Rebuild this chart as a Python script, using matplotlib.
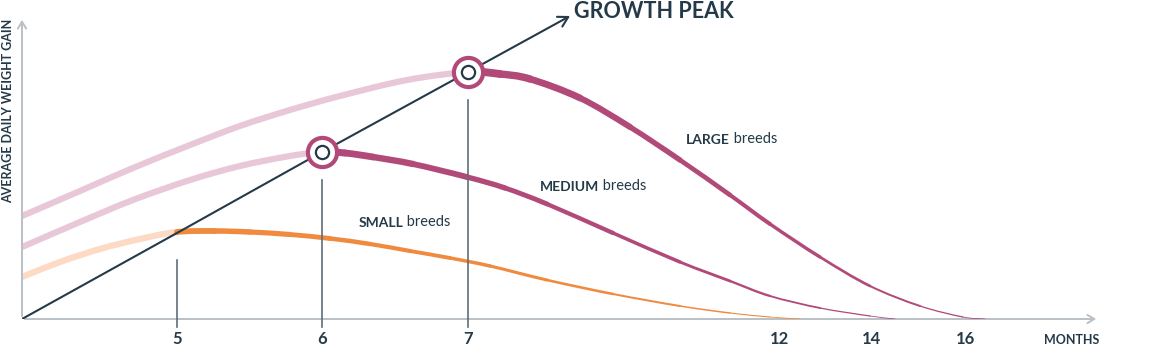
"""Growth-peak sketch: average daily weight gain by breed size vs. age in months."""
import numpy as np
import matplotlib.pyplot as plt
from matplotlib.path import Path
from matplotlib.patches import PathPatch
from matplotlib.collections import PathCollection

plt.rcParams['font.family'] = ['Lato', 'DejaVu Sans']

NAVY = "#243a49"
GREY = "#5f6e79"
AXIS = "#b9c0c6"
MAGENTA = "#b24a79"
PINK = "#e8c8d8"
ORANGE = "#f08a3e"
PEACH = "#fcdac4"

# the month axis of the original is uneven: months -> horizontal position
SCALE_MONTHS = [4, 5, 6, 7, 12, 14, 16, 19]
SCALE_POS = [0, 155, 300, 446, 757, 849, 943, 1084]

TICK_MONTHS = [5, 6, 7, 12, 14, 16]
TICK_LABELS = ["5", "6", "7", "12", "14", "16"]

LARGE_MONTHS = [4.0, 4.374, 4.716, 5.09, 5.434, 5.779, 6.123, 6.582, 7.0,
                7.514, 7.997, 8.801, 9.605, 10.408, 11.212, 11.855, 12.891, 13.978,
                15.043, 15.957, 16.426]
LARGE_GAIN = [103, 128, 151, 174, 193, 209, 223, 239, 247,
              245, 240, 221, 192, 159, 124, 95, 62, 33, 13, 2, 0]
LARGE_PEAK = 7

MEDIUM_MONTHS = [4.0, 4.374, 4.716, 5.09, 5.434, 5.779, 6.0,
                 6.158, 6.349, 6.623, 6.993, 7.595, 8.27, 9.331, 10.408, 11.212, 11.855,
                 12.891, 13.978, 14.511]
MEDIUM_GAIN = [72, 97, 119, 139, 153, 163, 167,
               166, 162, 155, 142, 131, 115, 86, 57, 38, 23, 11, 3, 0]
MEDIUM_PEAK = 6

SMALL_MONTHS = [4.0, 4.245, 4.503, 4.761, 5.0,
                5.262, 5.503, 5.779, 6.055, 6.329, 6.603, 6.877, 7.354, 8.27, 9.331,
                10.408, 11.212, 11.855, 12.457]
SMALL_GAIN = [42, 57, 70, 80, 87,
              88, 87, 84.5, 80.5, 75, 68, 61, 53, 39, 25, 13, 6, 2, 0]
SMALL_PEAK = 5

GROWTH_MONTHS = [4, 5, 6, 7]
GROWTH_GAIN = [0, 86, 167, 247]
GROWTH_TIP = (8.64, 303)


def to_pos(m):
    return np.interp(m, SCALE_MONTHS, SCALE_POS)


def to_month(p):
    return np.interp(p, SCALE_POS, SCALE_MONTHS)


def bezier_pieces(months, gain):
    """Cubic pieces through the read points (Catmull-Rom handles), one per gap."""
    p = np.column_stack([to_pos(months), gain]).astype(float)
    ext = np.vstack([2 * p[0] - p[1], p, 2 * p[-1] - p[-2]])
    pieces = []
    for i in range(len(p) - 1):
        p0, p1, p2, p3 = ext[i], ext[i + 1], ext[i + 2], ext[i + 3]
        c1 = p1 + (p2 - p0) / 6
        c2 = p2 - (p3 - p1) / 6
        v = np.array([p1, c1, c2, p2])
        v[:, 0] = to_month(v[:, 0])
        pieces.append(v)
    return pieces


def breed_curve(ax, months, gain, peak, light, dark, w_light, w_dark):
    months = np.asarray(months, float)
    gain = np.asarray(gain, float)
    codes = [Path.MOVETO, Path.CURVE4, Path.CURVE4, Path.CURVE4]
    pieces = bezier_pieces(months, gain)
    k = int(np.searchsorted(months, peak))  # index of the peak point

    verts = [pieces[0][0]]
    cds = [Path.MOVETO]
    for v in pieces[:k]:
        verts.extend(v[1:])
        cds.extend(codes[1:])
    ax.add_patch(PathPatch(Path(np.array(verts), cds), fill=False, edgecolor=light,
                           lw=w_light, capstyle="butt", zorder=2))

    p = to_pos(months[k:])
    mid = (p[:-1] + p[1:]) / 2
    widths = w_dark + (0.5 - w_dark) * (mid - p[0]) / (p[-1] - p[0])
    paths = [Path(v, codes) for v in pieces[k:]]
    pc = PathCollection(paths, facecolors="none", edgecolors=dark,
                        linewidths=widths, capstyle="round", zorder=3,
                        transform=ax.transData)
    ax.add_collection(pc)


fig = plt.figure(figsize=(11.72, 3.57), dpi=100)
ax = fig.add_axes([22 / 1172, 38 / 357, 1084 / 1172, 307 / 357])
ax.set_xscale("function", functions=(to_pos, to_month))
ax.set_xlim(4, 19)
ax.set_ylim(0, 307)
for s in ax.spines.values():
    s.set_visible(False)
ax.set_yticks([])
ax.set_xticks(TICK_MONTHS)
ax.set_xticklabels(TICK_LABELS, fontsize=12, fontweight="bold", color=NAVY)
ax.tick_params(axis="x", length=0, pad=9)
ax.xaxis.set_minor_locator(plt.NullLocator())

# axes with arrow heads
arrow_kw = dict(arrowstyle="->,head_length=0.5,head_width=0.3", color=AXIS, lw=1.4)
ax.annotate("", xy=(18.85, 0), xytext=(4, 0), arrowprops=arrow_kw, annotation_clip=False)
ax.annotate("", xy=(4, 302), xytext=(4, 0), arrowprops=arrow_kw, annotation_clip=False)

breed_curve(ax, LARGE_MONTHS, LARGE_GAIN, LARGE_PEAK, PINK, MAGENTA, 4.5, 5.8)
breed_curve(ax, MEDIUM_MONTHS, MEDIUM_GAIN, MEDIUM_PEAK, PINK, MAGENTA, 4.5, 5.2)
breed_curve(ax, SMALL_MONTHS, SMALL_GAIN, SMALL_PEAK, PEACH, ORANGE, 4.5, 4.3)

# growth-peak line
ax.plot(GROWTH_MONTHS, GROWTH_GAIN, color=NAVY, lw=1.5, zorder=4)
ax.annotate("", xy=GROWTH_TIP, xytext=(GROWTH_MONTHS[-1], GROWTH_GAIN[-1]),
            arrowprops=dict(arrowstyle="->,head_length=0.7,head_width=0.4",
                            color=NAVY, lw=1.5, shrinkA=0, shrinkB=0),
            annotation_clip=False, zorder=4)
ax.text(8.70, 307, "GROWTH PEAK", fontsize=15.5, fontweight="bold", color=NAVY,
        ha="left", va="center", clip_on=False)

# drop lines at each peak
for peak, gain in [(SMALL_PEAK, 87), (MEDIUM_PEAK, 167), (LARGE_PEAK, 247)]:
    ax.plot([peak, peak], [gain - 28, -8], color=GREY, lw=1.2, zorder=5, clip_on=False)

# peak markers
for peak, gain in [(MEDIUM_PEAK, 167), (LARGE_PEAK, 247)]:
    ax.plot(peak, gain, "o", ms=21, mfc="white", mec=MAGENTA, mew=3.0, zorder=6)
    ax.plot(peak, gain, "o", ms=9.5, mfc="white", mec=NAVY, mew=1.6, zorder=7)


def breed_label(x, y, name):
    t = ax.text(x, y, name, fontsize=10, fontweight="bold", color=NAVY,
                ha="left", va="center")
    ax.annotate(" breeds", xy=(1, 0), xycoords=t, fontsize=10.5, color=NAVY,
                ha="left", va="bottom")


breed_label(10.5, 179, "LARGE")
breed_label(8.16, 132, "MEDIUM")
breed_label(6.25, 96, "SMALL")

ax.text(18.85, -21, "MONTHS", fontsize=9, fontweight="bold", color=NAVY,
        ha="right", va="center", clip_on=False)
fig.text(8 / 1172, 1 - 111 / 357, "AVERAGE DAILY WEIGHT GAIN", rotation=90,
         fontsize=9, fontweight="bold", color=NAVY, ha="center", va="center")

fig.savefig("out.png", dpi=100)
